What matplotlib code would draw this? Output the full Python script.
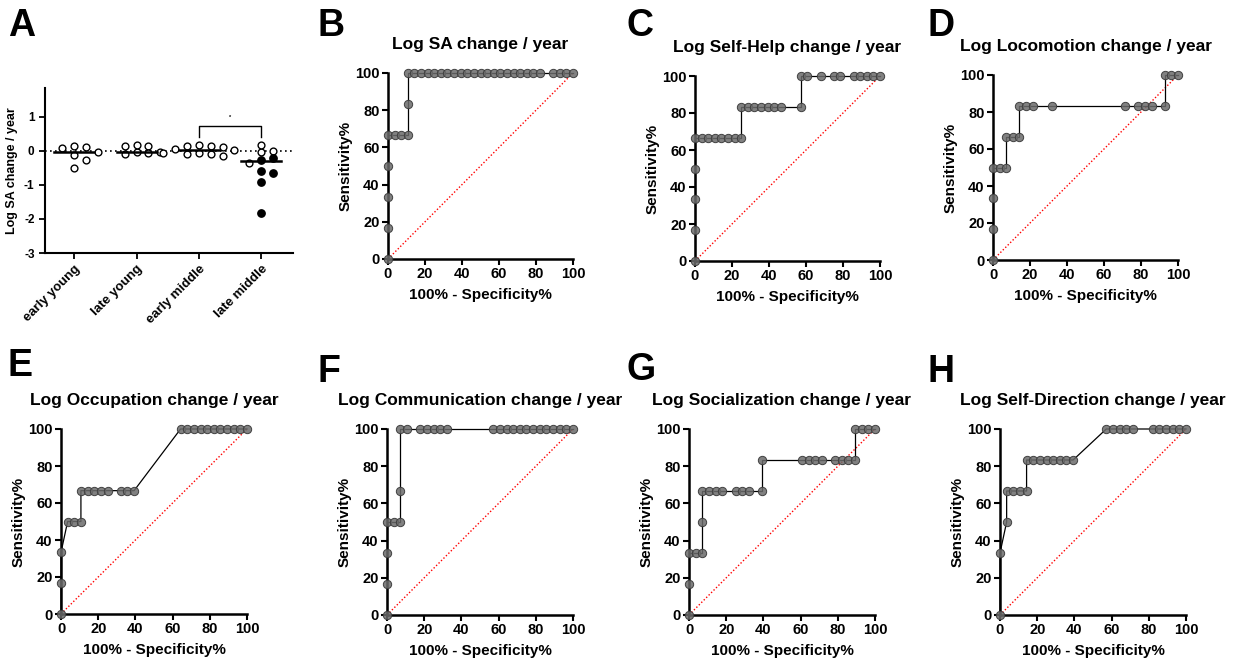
import numpy as np
import matplotlib
matplotlib.use('Agg')
import matplotlib.pyplot as plt

plt.rcParams['font.family'] = ['Liberation Sans', 'DejaVu Sans']
plt.rcParams['font.weight'] = 'bold'
plt.rcParams['axes.labelweight'] = 'bold'
plt.rcParams['axes.titleweight'] = 'bold'

# ---- panel A data (Log SA change / year) ----
groups = ['early young', 'late young', 'early middle', 'late middle']
early_young = [0.13, 0.08, 0.15, -0.04, -0.12, -0.28, -0.50]
late_young = [0.15, 0.15, -0.04, -0.02, 0.17, -0.07, -0.09]
early_middle = [0.15, 0.12, 0.15, 0.17, 0.06, 0.03, -0.07, -0.10, -0.10, -0.07, -0.15]
late_middle_open = [0.01, -0.04, 0.16, -0.36]
late_middle_filled = [-0.22, -0.26, -0.65, -0.60, -0.91, -1.82]

# ---- ROC data: 100% - Specificity% (x) and Sensitivity% (y) ----
roc_titles = ['Log SA change / year', 'Log Self-Help change / year',
              'Log Locomotion change / year', 'Log Occupation change / year',
              'Log Communication change / year', 'Log Socialization change / year',
              'Log Self-Direction change / year']

sa_x = [0, 0, 0, 0, 0, 3.571, 7.143, 10.71, 10.71, 10.71, 14.29, 17.86, 21.43, 25,
        28.57, 32.14, 35.71, 39.29, 42.86, 46.43, 50, 53.57, 57.14, 60.71, 64.29,
        67.86, 71.43, 75, 78.57, 82.14, 89.29, 92.86, 96.43, 100]
sa_y = [0, 16.67, 33.33, 50, 66.67, 66.67, 66.67, 66.67, 83.33, 100, 100, 100, 100, 100,
        100, 100, 100, 100, 100, 100, 100, 100, 100, 100, 100,
        100, 100, 100, 100, 100, 100, 100, 100, 100]

selfhelp_x = [0, 0, 0, 0, 0, 3.571, 7.143, 10.71, 14.29, 17.86, 21.43, 25,
              25, 28.57, 32.14, 35.71, 39.29, 42.86, 46.43, 57.14,
              57.14, 60.71, 67.86, 75, 78.57, 85.71, 89.29, 92.86, 96.43, 100]
selfhelp_y = [0, 16.67, 33.33, 50, 66.67, 66.67, 66.67, 66.67, 66.67, 66.67, 66.67, 66.67,
              83.33, 83.33, 83.33, 83.33, 83.33, 83.33, 83.33, 83.33,
              100, 100, 100, 100, 100, 100, 100, 100, 100, 100]

loco_x = [0, 0, 0, 0, 3.571, 7.143, 7.143, 10.71, 14.29, 14.29, 17.86, 21.43, 32.14,
          71.43, 78.57, 82.14, 85.71, 92.86, 92.86, 96.43, 100]
loco_y = [0, 16.67, 33.33, 50, 50, 50, 66.67, 66.67, 66.67, 83.33, 83.33, 83.33, 83.33,
          83.33, 83.33, 83.33, 83.33, 83.33, 100, 100, 100]

occ_x = [0, 0, 0, 3.571, 7.143, 10.71, 10.71, 14.29, 17.86, 21.43, 25, 32.14, 35.71, 39.29,
         64.29, 67.86, 71.43, 75, 78.57, 82.14, 85.71, 89.29, 92.86, 96.43, 100]
occ_y = [0, 16.67, 33.33, 50, 50, 50, 66.67, 66.67, 66.67, 66.67, 66.67, 66.67, 66.67, 66.67,
         100, 100, 100, 100, 100, 100, 100, 100, 100, 100, 100]

comm_x = [0, 0, 0, 0, 3.571, 7.143, 7.143, 7.143, 10.71, 17.86, 21.43, 25, 28.57, 32.14,
          57.14, 60.71, 64.29, 67.86, 71.43, 75, 78.57, 82.14, 85.71, 89.29, 92.86, 96.43, 100]
comm_y = [0, 16.67, 33.33, 50, 50, 50, 66.67, 100, 100, 100, 100, 100, 100, 100,
          100, 100, 100, 100, 100, 100, 100, 100, 100, 100, 100, 100, 100]

soc_x = [0, 0, 0, 3.571, 7.143, 7.143, 7.143, 10.71, 14.29, 17.86, 25, 28.57, 32.14,
         39.29, 39.29, 60.71, 64.29, 67.86, 71.43, 78.57, 82.14, 85.71, 89.29,
         89.29, 92.86, 96.43, 100]
soc_y = [0, 16.67, 33.33, 33.33, 33.33, 50, 66.67, 66.67, 66.67, 66.67, 66.67, 66.67, 66.67,
         66.67, 83.33, 83.33, 83.33, 83.33, 83.33, 83.33, 83.33, 83.33, 83.33,
         100, 100, 100, 100]

selfdir_x = [0, 0, 3.571, 3.571, 7.143, 10.71, 14.29, 14.29, 17.86, 21.43, 25, 28.57,
             32.14, 35.71, 39.29, 57.14, 60.71, 64.29, 67.86, 71.43,
             82.14, 85.71, 89.29, 92.86, 96.43, 100]
selfdir_y = [0, 33.33, 50, 66.67, 66.67, 66.67, 66.67, 83.33, 83.33, 83.33, 83.33, 83.33,
             83.33, 83.33, 83.33, 100, 100, 100, 100, 100,
             100, 100, 100, 100, 100, 100]

roc_data = [(sa_x, sa_y), (selfhelp_x, selfhelp_y), (loco_x, loco_y), (occ_x, occ_y),
            (comm_x, comm_y), (soc_x, soc_y), (selfdir_x, selfdir_y)]

W, H = 1240, 667
fig = plt.figure(figsize=(W / 100, H / 100), dpi=100)


def px_axes(left, top, right, bottom):
    return fig.add_axes([left / W, 1 - bottom / H, (right - left) / W, (bottom - top) / H])


def swarm(vals, center, dx, dy):
    # simple beeswarm: push points sideways until they don't overlap
    order = np.argsort(vals)[::-1]
    placed = []
    xs = np.zeros(len(vals))
    for i in order:
        v = vals[i]
        for k in range(40):
            off = ((k + 1) // 2) * dx * (1 if k % 2 else -1) if k else 0.0
            x = center + off
            if all(((px - x) / dx) ** 2 + ((pv - v) / dy) ** 2 >= 1 for px, pv in placed):
                break
        placed.append((x, v))
        xs[i] = x
    return xs


# ---------------- panel A ----------------
axA = px_axes(45, 88, 293, 253)
axA.axhline(0, color='black', ls=(0, (1, 2)), lw=1.2, zorder=1)
all_groups = [early_young, late_young, early_middle, late_middle_open + late_middle_filled]
for gi, vals in enumerate(all_groups):
    vals = np.array(vals)
    xs = swarm(vals, gi, 0.19, 0.2)
    filled = np.zeros(len(vals), bool)
    if gi == 3:
        filled[len(late_middle_open):] = True
    axA.scatter(xs[~filled], vals[~filled], s=24, facecolor='white', edgecolor='black',
                lw=1.0, zorder=3, clip_on=False)
    axA.scatter(xs[filled], vals[filled], s=28, facecolor='black', edgecolor='black',
                lw=1.0, zorder=3, clip_on=False)
    med = np.median(vals)
    axA.plot([gi - 0.32, gi + 0.32], [med, med], color='black', lw=1.8, zorder=4)

axA.plot([2, 2, 3, 3], [0.42, 0.73, 0.73, 0.42], color='black', lw=1.0)
axA.text(2.5, 0.9, '*', ha='center', va='bottom', fontsize=4)
axA.set_xlim(-0.47, 3.51)
axA.set_ylim(-3, 1.85)
axA.set_yticks([-3, -2, -1, 0, 1])
axA.set_yticklabels(['-3', '-2', '-1', '0', '1'])
axA.set_xticks(range(4))
axA.set_xticklabels(groups, rotation=45, ha='right', rotation_mode='anchor', fontsize=9.5)
axA.set_ylabel('Log SA change / year', fontsize=9, labelpad=4)
axA.tick_params(axis='y', labelsize=8.5, direction='out', length=4, width=1.3)
axA.tick_params(axis='x', direction='out', length=4, width=1.3, pad=3)
for s in ['top', 'right']:
    axA.spines[s].set_visible(False)
for s in ['left', 'bottom']:
    axA.spines[s].set_linewidth(1.5)

# ---------------- ROC panels ----------------
roc_boxes = [(388, 73, 573, 259), (695, 76, 880, 261), (993, 75, 1178, 260),
             (61, 429, 247, 614), (387, 429, 573, 615), (689, 429, 875, 615),
             (1000, 429, 1186, 615)]

for (x, y), title, box in zip(roc_data, roc_titles, roc_boxes):
    ax = px_axes(*box)
    ax.plot([0, 100], [0, 100], color='red', ls=(0, (1, 1.5)), lw=1.0, zorder=2)
    ax.plot(x, y, color='black', lw=0.9, marker='o', ms=6,
            mfc=(0.42, 0.42, 0.42, 0.85), mec=(0.25, 0.25, 0.25), mew=0.7,
            clip_on=False, zorder=3)
    ax.set_xlim(0, 100)
    ax.set_ylim(0, 100)
    ax.set_xticks(range(0, 101, 20))
    ax.set_yticks(range(0, 101, 20))
    ax.set_title(title, fontsize=12.5, pad=17)
    ax.set_xlabel('100% - Specificity%', fontsize=11, labelpad=5)
    ax.set_ylabel('Sensitivity%', fontsize=11, labelpad=2)
    ax.tick_params(labelsize=10.5, direction='out', length=4, width=1.5, pad=2)
    for s in ['top', 'right']:
        ax.spines[s].set_visible(False)
    for s in ['left', 'bottom']:
        ax.spines[s].set_linewidth(1.8)

# panel letters
letters = [('A', 8, 8), ('B', 318, 8), ('C', 627, 8), ('D', 928, 8),
           ('E', 8, 348), ('F', 318, 354), ('G', 627, 352), ('H', 928, 354)]
for lab, lx, ly in letters:
    fig.text(lx / W, 1 - ly / H, lab, fontsize=27, fontweight='bold', va='top', ha='left')

fig.savefig('out.png', dpi=100)
